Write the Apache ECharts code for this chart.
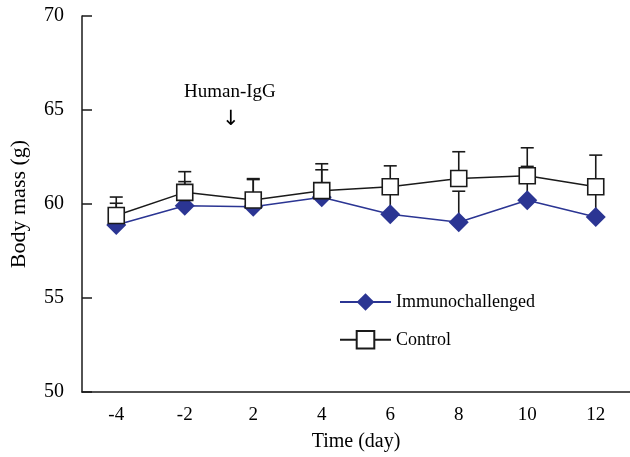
<!DOCTYPE html>
<html>
<head>
<meta charset="utf-8">
<script src="https://cdn.jsdelivr.net/npm/echarts@6/dist/echarts.min.js"></script>
<style>html,body{margin:0;padding:0;background:#fff}#c{width:630px;height:457px}</style>
</head>
<body>
<div id="c"></div>
<script>
var categories = ['-4', '-2', '2', '4', '6', '8', '10', '12'];
var immunoMean = [58.88, 59.91, 59.86, 60.36, 59.45, 59.03, 60.20, 59.31];
var immunoErr  = [1.16, 1.28, 1.44, 1.46, 1.15, 1.65, 1.80, 1.30];
var controlMean = [59.39, 60.62, 60.21, 60.71, 60.92, 61.36, 61.50, 60.92];
var controlErr  = [0.98, 1.10, 1.14, 1.43, 1.11, 1.42, 1.49, 1.68];
var yTicks = [50, 55, 60, 65, 70];

var FONT = '"Liberation Serif", "Times New Roman", serif';
var BLUE = '#2b3593';
var BLACK = '#1a1a1a';

function errData(mean, err) {
  return mean.map(function (m, i) { return [i, m, m + err[i]]; });
}
function errRender(color) {
  return function (params, api) {
    var x = api.value(0);
    var p0 = api.coord([x, api.value(1)]);
    var p1 = api.coord([x, api.value(2)]);
    var hw = 6.5;
    var style = { stroke: color, lineWidth: 1.6, fill: null };
    return {
      type: 'group',
      children: [
        { type: 'line', shape: { x1: p0[0], y1: p0[1], x2: p1[0], y2: p1[1] }, style: style },
        { type: 'line', shape: { x1: p1[0] - hw, y1: p1[1], x2: p1[0] + hw, y2: p1[1] }, style: style }
      ]
    };
  };
}

var chart = echarts.init(document.getElementById('c'), null, { renderer: 'canvas' });
chart.setOption({
  animation: false,
  backgroundColor: '#fff',
  textStyle: { fontFamily: FONT, color: '#000' },
  grid: { left: 80, right: 0, top: 16, bottom: 65, containLabel: false },
  legend: {
    orient: 'vertical',
    left: 334,
    top: 288,
    itemWidth: 51,
    itemHeight: 22,
    itemGap: 19,
    textStyle: { fontFamily: FONT, fontSize: 18, color: '#000' },
    data: [
      { name: 'Immunochallenged', itemStyle: { color: BLUE } },
      { name: 'Control' }
    ]
  },
  xAxis: {
    type: 'category',
    data: categories,
    boundaryGap: true,
    name: 'Time (day)',
    nameLocation: 'middle',
    nameGap: 40,
    nameTextStyle: { fontFamily: FONT, fontSize: 20, color: '#000' },
    axisLine: { lineStyle: { color: BLACK, width: 1.5 } },
    axisTick: { inside: true, length: 10, lineStyle: { color: BLACK, width: 1.5 } },
    axisLabel: { fontFamily: FONT, fontSize: 19, color: '#000', margin: 14 },
    splitLine: { show: false }
  },
  yAxis: {
    type: 'value',
    min: 50,
    max: 70,
    interval: 5,
    name: 'Body mass (g)',
    nameLocation: 'middle',
    nameGap: 52,
    nameTextStyle: { fontFamily: FONT, fontSize: 22, color: '#000' },
    axisLine: { show: true, lineStyle: { color: BLACK, width: 1.5 } },
    axisTick: { show: true, inside: true, length: 10, lineStyle: { color: BLACK, width: 1.5 } },
    axisLabel: { fontFamily: FONT, fontSize: 20, color: '#000', margin: 18,
      formatter: function (v) { return yTicks.indexOf(v) >= 0 ? String(v) : ''; } },
    splitLine: { show: false }
  },
  graphic: [
    { type: 'text', left: 184, top: 83, style: { text: 'Human-IgG', font: '19px ' + FONT, fill: '#000' } },
    { type: 'text', left: 222, top: 109, style: { text: '\u2193', font: '21px "DejaVu Sans", sans-serif', fill: '#000' } }
  ],
  series: [
    {
      type: 'custom',
      name: 'immunoErr',
      renderItem: errRender(BLACK),
      data: errData(immunoMean, immunoErr),
      z: 1,
      silent: true
    },
    {
      type: 'line',
      name: 'Immunochallenged',
      data: immunoMean,
      symbol: 'diamond',
      symbolSize: [20, 20],
      lineStyle: { color: BLUE, width: 1.5 },
      itemStyle: { color: BLUE, borderColor: BLUE, borderWidth: 0 },
      z: 2
    },
    {
      type: 'custom',
      name: 'controlErr',
      renderItem: errRender(BLACK),
      data: errData(controlMean, controlErr),
      z: 3,
      silent: true
    },
    {
      type: 'line',
      name: 'Control',
      data: controlMean,
      symbol: 'rect',
      symbolSize: 16,
      lineStyle: { color: BLACK, width: 1.5 },
      itemStyle: { color: '#fff', borderColor: BLACK, borderWidth: 1.6 },
      z: 4
    }
  ]
});
</script>
</body>
</html>
